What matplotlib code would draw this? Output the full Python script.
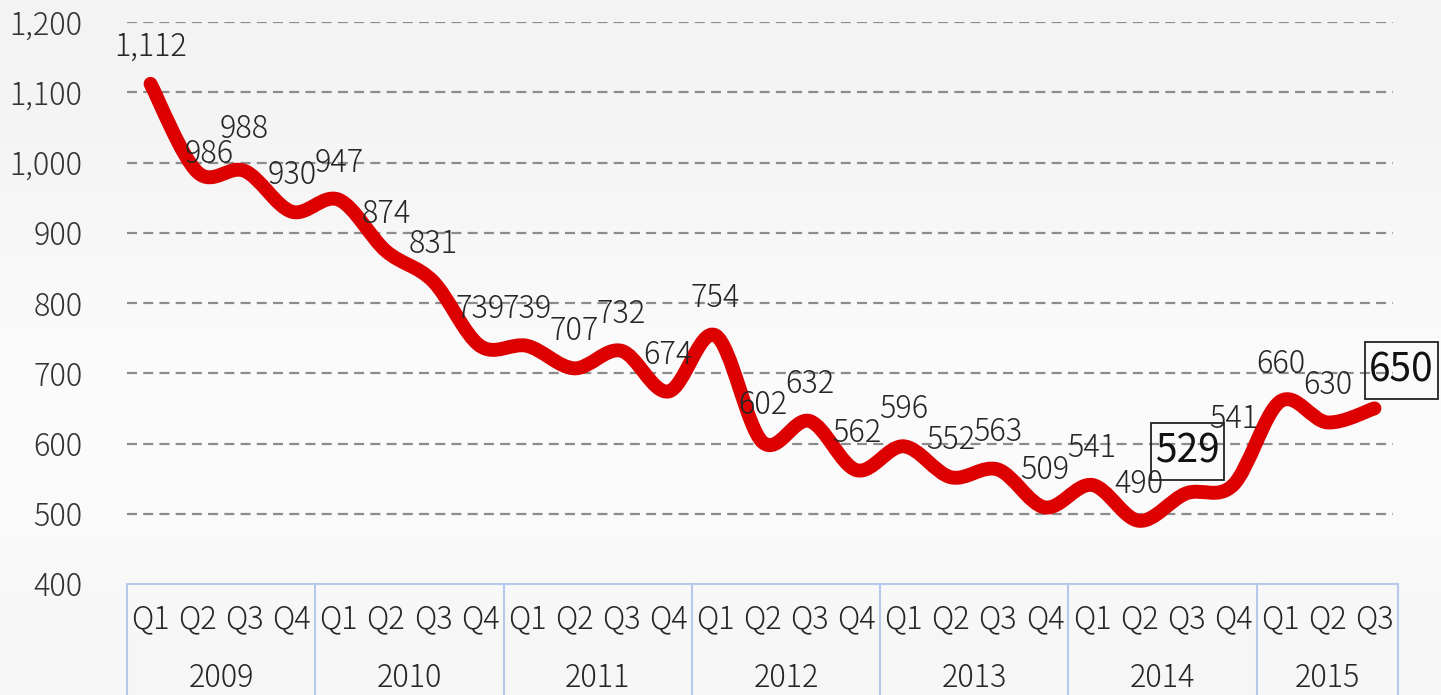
import numpy as np
import matplotlib
matplotlib.use("Agg")
import matplotlib.pyplot as plt
from matplotlib.path import Path
from matplotlib.patches import PathPatch, Rectangle
import matplotlib.transforms as mtransforms
from matplotlib.ticker import FuncFormatter

plt.rcParams['font.family'] = ['Noto Sans CJK JP', 'DejaVu Sans']
plt.rcParams['font.weight'] = 300

years = ['2009', '2010', '2011', '2012', '2013', '2014', '2015']
quarters = ['Q1', 'Q2', 'Q3', 'Q4']
quarters_per_year = [4, 4, 4, 4, 4, 4, 3]
values = [1112, 986, 988, 930,
          947, 874, 831, 739,
          739, 707, 732, 674,
          754, 602, 632, 562,
          596, 552, 563, 509,
          541, 490, 529, 541,
          660, 630, 650]
boxed = [22, 26]  # indexes of highlighted labels

q_labels = []
for n in quarters_per_year:
    q_labels += quarters[:n]
x = np.arange(len(values))

# label nudges in pixels (dx, dy above point)
nudge = {1: (12, 18), 2: (0, 42), 22: (1, 42), 23: (0, 66), 26: (27, 38)}

fig = plt.figure(figsize=(14.41, 6.95), dpi=100)
# soft background gradient
bg = fig.add_axes([0, 0, 1, 1], zorder=-10)
grad = np.array([0.955, 0.965, 0.985, 0.99, 0.965]).reshape(-1, 1)
bg.imshow(np.dstack([grad] * 3), aspect='auto', extent=[0, 1, 0, 1], interpolation='bicubic')
bg.axis('off')

ax = fig.add_axes([127 / 1441, 1 - 584 / 695, 1271 / 1441, 562 / 695])
ax.patch.set_alpha(0)
ax.set_xlim(-0.5, len(values) - 0.5)
ax.set_ylim(400, 1200)
ax.set_yticks(range(400, 1201, 100))
ax.yaxis.set_major_formatter(FuncFormatter(lambda v, p: f'{int(v):,}'))
for s in ax.spines.values():
    s.set_visible(False)
ax.tick_params(axis='y', length=0, pad=32, labelsize=22, labelcolor='#333333')

for g in range(500, 1201, 100):
    ax.axhline(g, color='#8c8c8c', lw=1.6, ls=(0, (4.5, 2.8)), xmin=0, xmax=0.996, zorder=1)

# smooth line (Catmull-Rom style bezier, like Excel smoothing)
pts = np.column_stack([x, values]).astype(float)
verts = [pts[0]]
codes = [Path.MOVETO]
for i in range(len(pts) - 1):
    p0 = pts[i - 1] if i > 0 else pts[i]
    p1 = pts[i]
    p2 = pts[i + 1]
    p3 = pts[i + 2] if i + 2 < len(pts) else pts[i + 1]
    c1 = p1 + (p2 - p0) / 6
    c2 = p2 - (p3 - p1) / 6
    verts += [c1, c2, p2]
    codes += [Path.CURVE4] * 3
ax.add_patch(PathPatch(Path(verts, codes), fill=False, edgecolor='#dc0000',
                       lw=10, capstyle='round', joinstyle='round', zorder=3))

for i, v in enumerate(values):
    dx, dy = nudge.get(i, (0, 37))
    if i in boxed:
        ax.annotate(f'{v:,}', (i, v), xytext=(dx, dy), textcoords='offset pixels',
                    ha='center', va='center', fontsize=28, color='#111111', zorder=5,
                    fontweight=400, annotation_clip=False)
        # box in pixel units around the label
        tr = mtransforms.Affine2D() + mtransforms.ScaledTranslation(i, v, ax.transData)
        ax.add_patch(Rectangle((dx - 36.5, dy - 28.5), 73, 57, transform=tr, fill=False,
                               ec='#222222', lw=1.3, zorder=5, clip_on=False))
    else:
        ax.annotate(f'{v:,}', (i, v), xytext=(dx, dy), textcoords='offset pixels',
                    ha='center', va='center', fontsize=22, color='#262626',
                    zorder=5, annotation_clip=False)

# two-level category axis
ax.set_xticks(x)
ax.set_xticklabels(q_labels)
ax.tick_params(axis='x', length=0, pad=14, labelsize=22, labelcolor='#262626')

trans = mtransforms.blended_transform_factory(ax.transData, ax.transAxes)
blue = '#b7c9ea'
ax.plot([-0.5, len(values) - 0.5], [0, 0], color=blue, lw=1.5, transform=trans, clip_on=False)
start = 0
edges = [-0.5]
for yr, n in zip(years, quarters_per_year):
    ax.text(start + (n - 1) / 2, -0.168, yr, transform=trans, ha='center', va='center',
            fontsize=22, color='#262626')
    start += n
    edges.append(start - 0.5)
for e in edges:
    ax.plot([e, e], [0, -0.2], color=blue, lw=1.5, transform=trans, clip_on=False)

fig.savefig('out.png', dpi=100)
